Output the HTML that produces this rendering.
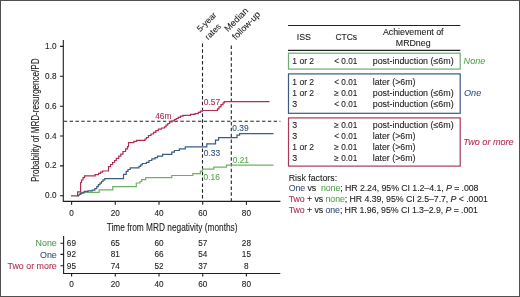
<!DOCTYPE html>
<html><head><meta charset="utf-8">
<style>
html,body{margin:0;padding:0;background:#fff;}
body{width:520px;height:297px;overflow:hidden;position:relative;}
svg{position:absolute;left:0;top:0;will-change:transform;}
text{font-family:"Liberation Sans",sans-serif;stroke-width:0.1px;}
</style></head><body>
<svg width="520" height="297" viewBox="0 0 520 297">
<!-- outer border -->
<rect x="0" y="0" width="520" height="1" fill="#505050"/>
<rect x="0" y="0" width="1" height="297" fill="#505050"/>
<rect x="519" y="0" width="1" height="297" fill="#505050"/>
<rect x="0" y="296" width="520" height="1" fill="#505050"/>

<!-- axes -->
<g stroke="#1e1e1e" stroke-width="1.1" fill="none">
  <path d="M63.3 40 V201.4 H280.4"/>
  <path d="M60 46.4 H63.3 M60 76.3 H63.3 M60 106.2 H63.3 M60 136 H63.3 M60 165.9 H63.3 M60 195.8 H63.3"/>
  <path d="M71.6 201.4 V204.8 M115.3 201.4 V204.8 M159 201.4 V204.8 M202.7 201.4 V204.8 M246.4 201.4 V204.8"/>
</g>
<!-- dashed reference lines -->
<g stroke="#222" stroke-width="1.1" fill="none">
  <path d="M63.8 121.2 H280.4" stroke-dasharray="3.4 2.43"/>
  <path d="M202.5 43.5 V201" stroke-dasharray="3.5 2.33"/>
  <path d="M231.3 45.6 V201" stroke-dasharray="3.5 2.37"/>
</g>

<!-- curves -->
<g fill="none" stroke-width="1.2" stroke-linejoin="miter">
<path stroke="#6ab262" d="M81 195 V192.4 H99.2 V189.8 H112.8 V186.6 H136.3 V183 H140 V181.5 H141.7 V179.6 H145.7 V177.6 H171.8 V175.5 H192.9 V173.6 H200.4 V171.2 H202.5 V169.2 H213.8 V167.2 H226.5 V165.1 H273.5"/>
<path stroke="#3a5c85" d="M77.6 195.8 H78.5 V195 H79.5 V194.2 H80.5 V193.4 H82 V192.8 H84.2 V191.4 H88 V190.8 H92.2 V190.2 H94.8 V188.7 H96.8 V186.7 H98.3 V184.6 H100 V183.1 H101.5 V181.5 H103 V179.8 H104.8 V178.6 H123.5 V174.3 H126.2 V171.3 H128 V169.5 H130.2 V167.8 H139 V166.4 H140.7 V164.8 H142.3 V163.5 H146.4 V162.4 H149 V160.5 H151.8 V158.8 H155 V157.6 H157.5 V156.1 H162.6 V154.4 H171.8 V152.2 H174.4 V150.5 H179.4 V148.9 H185.3 V146.9 H206.8 V143.9 H215.5 V140.2 H218.6 V137.6 H237 V135.1 H239.6 V133.6 H273.5"/>
<path stroke="#b02d52" d="M71 195.8 H77.6 V191.8 H80.6 V182.5 H81.5 V180 H83 V177.7 H84.5 V175.8 H95.1 V174.6 H98.5 V173.3 H100.5 V172.1 H102.5 V171 H108.5 V166.6 H110.6 V164.5 H112.6 V162.5 H114.6 V160.5 H116.3 V158.3 H118.8 V156.2 H120.8 V154.2 H123 V151.5 H125.6 V148.8 H127.5 V146.6 H128.5 V142.6 H133.9 V141.4 H136.6 V140.4 H145 V139 H146.5 V137.5 H148.5 V135.5 H151 V134 H153.5 V132.3 H155.8 V130.6 H158.3 V129.2 H161.5 V128 H164.5 V126.8 H166 V125.2 H167.8 V123.5 H169.6 V122 H172 V120.8 H174.3 V119.7 H176.2 V118.5 H178.2 V117.3 H180.5 V116.2 H183 V115.3 H190.5 V114.3 H195 V113.6 H198.3 V112.3 H200.4 V111.2 H202.4 V110.5 H217.5 V108.9 H219 V106.8 H221 V104.6 H223 V102.8 H224.3 V101.6 H269.5"/>
</g>

<!-- y tick labels -->
<g font-size="8.2" fill="#222" stroke="#222" text-anchor="end">
  <text x="56.5" y="48.9">1.0</text>
  <text x="56.5" y="78.8">0.8</text>
  <text x="56.5" y="108.7">0.6</text>
  <text x="56.5" y="138.5">0.4</text>
  <text x="56.5" y="168.4">0.2</text>
  <text x="56.5" y="198.3">0.0</text>
</g>
<!-- x tick labels -->
<g font-size="8.2" fill="#222" stroke="#222" text-anchor="middle">
  <text x="71.6" y="215.9">0</text>
  <text x="115.3" y="215.9">20</text>
  <text x="159" y="215.9">40</text>
  <text x="202.7" y="215.9">60</text>
  <text x="246.4" y="215.9">80</text>
</g>
<text x="106.7" y="230.6" font-size="10.8" fill="#222" stroke="#222" textLength="130.8" lengthAdjust="spacingAndGlyphs">Time from MRD negativity (months)</text>
<text transform="translate(38.7 182) rotate(-90)" font-size="10.8" fill="#222" stroke="#222" textLength="123.5" lengthAdjust="spacingAndGlyphs">Probability of MRD-resurgence/PD</text>

<!-- annotations -->
<g font-size="8.4">
  <text x="155.2" y="118.6" fill="#b02d50" stroke="#b02d50">46m</text>
  <text x="203.8" y="105.2" fill="#b02d50" stroke="#b02d50">0.57</text>
  <text x="232.3" y="130.9" fill="#36547c" stroke="#36547c">0.39</text>
  <text x="203.8" y="156" fill="#36547c" stroke="#36547c">0.33</text>
  <text x="232.7" y="162.7" fill="#55a64c" stroke="#55a64c">0.21</text>
  <text x="203.5" y="179.6" fill="#55a64c" stroke="#55a64c">0.16</text>
</g>
<g font-size="8.4" fill="#222" stroke="#222">
  <text transform="translate(200.3 32.2) rotate(-45)">5-year</text>
  <text transform="translate(208.3 40.2) rotate(-45)">rates</text>
  <text transform="translate(228 32.2) rotate(-45)" font-size="9">Median</text>
  <text transform="translate(235.7 40.2) rotate(-45)" font-size="8.9">follow-up</text>
</g>

<!-- risk table -->
<g stroke="#1e1e1e" stroke-width="1.1" fill="none">
  <path d="M63.6 236 V273.5 H280.3"/>
  <path d="M60.4 243.3 H63.6 M60.4 254.4 H63.6 M60.4 265.8 H63.6"/>
  <path d="M71.6 273.5 V276.6 M115.3 273.5 V276.6 M159 273.5 V276.6 M202.7 273.5 V276.6 M246.4 273.5 V276.6"/>
</g>
<g font-size="8.2" fill="#222" stroke="#222" text-anchor="middle">
  <text x="71.4" y="246.1">69</text><text x="115.3" y="246.1">65</text><text x="159" y="246.1">60</text><text x="202.7" y="246.1">57</text><text x="246.4" y="246.1">28</text>
  <text x="71.4" y="257.2">92</text><text x="115.3" y="257.2">81</text><text x="159" y="257.2">66</text><text x="202.7" y="257.2">54</text><text x="246.4" y="257.2">15</text>
  <text x="71.4" y="269">95</text><text x="115.3" y="269">74</text><text x="159" y="269">52</text><text x="202.7" y="269">37</text><text x="246.4" y="269">8</text>
  <text x="71.6" y="287">0</text><text x="115.3" y="287">20</text><text x="159" y="287">40</text><text x="202.7" y="287">60</text><text x="246.4" y="287">80</text>
</g>
<g font-size="8.9" text-anchor="end">
  <text x="56.8" y="246.4" fill="#4e9e50" stroke="#4e9e50">None</text>
  <text x="56.8" y="257.8" fill="#34557c" stroke="#34557c">One</text>
  <text x="56.8" y="269.4" fill="#b42f50" stroke="#b42f50">Two or more</text>
</g>

<!-- right table -->
<g stroke="#222" stroke-width="1.1" fill="none">
  <path d="M288 25.5 H460.3"/>
  <path d="M288 50.4 H460.3"/>
</g>
<rect x="288.5" y="53.2" width="171.7" height="15.9" fill="none" stroke="#6aad70" stroke-width="1.2"/>
<rect x="288.5" y="73.9" width="171.7" height="39.4" fill="none" stroke="#3a5a80" stroke-width="1.2"/>
<rect x="288.5" y="117.9" width="171.7" height="48.2" fill="none" stroke="#a83a58" stroke-width="1.2"/>

<g font-size="8.8" fill="#222" stroke="#222">
  <text x="296.8" y="40.2">ISS</text>
  <text x="335.5" y="40.2" textLength="21.6" lengthAdjust="spacingAndGlyphs">CTCs</text>
  <text x="413.2" y="35" text-anchor="middle">Achievement of</text>
  <text x="413.2" y="45.5" text-anchor="middle">MRDneg</text>

  <text x="292.3" y="63.8" textLength="21.8" lengthAdjust="spacingAndGlyphs">1 or 2</text><text x="334.3" y="63.8" textLength="23" lengthAdjust="spacingAndGlyphs">&lt; 0.01</text><text x="372.7" y="63.8" textLength="81" lengthAdjust="spacingAndGlyphs">post-induction (≤6m)</text>

  <text x="292.3" y="84.7" textLength="21.8" lengthAdjust="spacingAndGlyphs">1 or 2</text><text x="334.3" y="84.7" textLength="23" lengthAdjust="spacingAndGlyphs">&lt; 0.01</text><text x="372.7" y="84.7">later (&gt;6m)</text>
  <text x="292.3" y="96" textLength="21.8" lengthAdjust="spacingAndGlyphs">1 or 2</text><text x="334.3" y="96" textLength="23" lengthAdjust="spacingAndGlyphs">≥ 0.01</text><text x="372.7" y="96" textLength="81" lengthAdjust="spacingAndGlyphs">post-induction (≤6m)</text>
  <text x="292.3" y="107.2">3</text><text x="334.3" y="107.2" textLength="23" lengthAdjust="spacingAndGlyphs">&lt; 0.01</text><text x="372.7" y="107.2" textLength="81" lengthAdjust="spacingAndGlyphs">post-induction (≤6m)</text>

  <text x="292.3" y="128.1">3</text><text x="334.3" y="128.1" textLength="23" lengthAdjust="spacingAndGlyphs">≥ 0.01</text><text x="372.7" y="128.1" textLength="81" lengthAdjust="spacingAndGlyphs">post-induction (≤6m)</text>
  <text x="292.3" y="139.2">3</text><text x="334.3" y="139.2" textLength="23" lengthAdjust="spacingAndGlyphs">&lt; 0.01</text><text x="372.7" y="139.2">later (&gt;6m)</text>
  <text x="292.3" y="150.3" textLength="21.8" lengthAdjust="spacingAndGlyphs">1 or 2</text><text x="334.3" y="150.3" textLength="23" lengthAdjust="spacingAndGlyphs">≥ 0.01</text><text x="372.7" y="150.3">later (&gt;6m)</text>
  <text x="292.3" y="161.4">3</text><text x="334.3" y="161.4" textLength="23" lengthAdjust="spacingAndGlyphs">≥ 0.01</text><text x="372.7" y="161.4">later (&gt;6m)</text>
</g>
<g font-size="9.1" font-style="italic">
  <text x="463.6" y="64.1" fill="#55a64c" stroke="#55a64c">None</text>
  <text x="464" y="96.4" fill="#36547c" stroke="#36547c">One</text>
  <text x="463.3" y="145.2" fill="#b42f50" stroke="#b42f50">Two or more</text>
</g>

<!-- risk factors -->
<g font-size="8.8" fill="#222" stroke="#222">
  <text x="288.7" y="180.7">Risk factors:</text>
  <text x="288.7" y="190.8" textLength="189.8" lengthAdjust="spacing"><tspan fill="#36547c" stroke="#36547c">One</tspan> vs&#160; <tspan fill="#55a64c" stroke="#55a64c">none</tspan>; HR 2.24, 95% CI 1.2–4.1, <tspan font-style="italic">P</tspan> = .008</text>
  <text x="288.7" y="201.9" textLength="199.3" lengthAdjust="spacing"><tspan fill="#b42f50" stroke="#b42f50">Two</tspan> + vs <tspan fill="#55a64c" stroke="#55a64c">none</tspan>; HR 4.39, 95% CI 2.5–7.7, <tspan font-style="italic">P</tspan> &lt; .0001</text>
  <text x="288.7" y="213" textLength="189.3" lengthAdjust="spacing"><tspan fill="#b42f50" stroke="#b42f50">Two</tspan> + vs <tspan fill="#36547c" stroke="#36547c">one</tspan>; HR 1.96, 95% CI 1.3–2.9, <tspan font-style="italic">P</tspan> = .001</text>
</g>
</svg>
</body></html>
